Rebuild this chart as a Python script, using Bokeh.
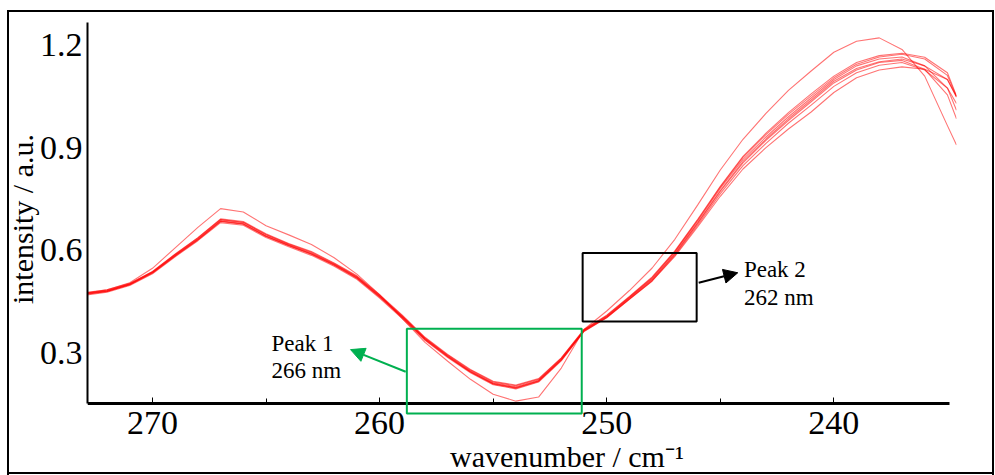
from bokeh.plotting import figure
from bokeh.models import (Range1d, FixedTicker, BoxAnnotation, Arrow, NormalHead, Label,
                          LinearAxis)
from bokeh.embed import file_html
from bokeh.resources import INLINE

# ---------------- data ----------------
wavenumber = [273, 272, 271, 270, 269, 268, 267, 266, 265, 264, 263, 262, 261, 260,
              259, 258, 257, 256, 255, 254, 253, 252, 251, 250, 249, 248, 247, 246,
              245, 244, 243, 242, 241, 240, 239, 238, 237, 236, 235, 234.6]

spectrum_1 = [0.472, 0.480, 0.500, 0.535, 0.585, 0.632, 0.686, 0.678, 0.642, 0.615, 0.590, 0.558, 0.520, 0.465,
              0.405, 0.340, 0.290, 0.245, 0.210, 0.198, 0.218, 0.280, 0.365, 0.405, 0.460, 0.515, 0.590, 0.680,
              0.775, 0.860, 0.925, 0.985, 1.040, 1.095, 1.132, 1.152, 1.160, 1.140, 1.100, 1.050]
spectrum_2 = [0.476, 0.484, 0.503, 0.538, 0.589, 0.637, 0.692, 0.684, 0.648, 0.620, 0.596, 0.563, 0.525, 0.470,
              0.410, 0.345, 0.295, 0.251, 0.216, 0.205, 0.224, 0.285, 0.368, 0.410, 0.465, 0.522, 0.598, 0.690,
              0.787, 0.875, 0.942, 1.003, 1.058, 1.110, 1.150, 1.170, 1.177, 1.165, 1.120, 1.052]
spectrum_3 = [0.468, 0.477, 0.497, 0.531, 0.581, 0.628, 0.681, 0.673, 0.637, 0.610, 0.585, 0.553, 0.515, 0.460,
              0.400, 0.336, 0.286, 0.241, 0.206, 0.194, 0.214, 0.276, 0.362, 0.402, 0.456, 0.510, 0.585, 0.673,
              0.766, 0.848, 0.912, 0.972, 1.025, 1.080, 1.120, 1.142, 1.150, 1.128, 1.075, 1.030]
spectrum_4 = [0.470, 0.479, 0.499, 0.533, 0.583, 0.630, 0.684, 0.676, 0.640, 0.613, 0.588, 0.556, 0.518, 0.463,
              0.403, 0.338, 0.288, 0.243, 0.208, 0.196, 0.216, 0.278, 0.363, 0.403, 0.457, 0.510, 0.582, 0.668,
              0.758, 0.838, 0.900, 0.955, 1.005, 1.062, 1.105, 1.128, 1.137, 1.130, 1.100, 1.048]
spectrum_5 = [0.474, 0.482, 0.501, 0.536, 0.587, 0.634, 0.689, 0.681, 0.645, 0.617, 0.592, 0.560, 0.522, 0.467,
              0.407, 0.342, 0.292, 0.247, 0.212, 0.200, 0.220, 0.282, 0.366, 0.407, 0.462, 0.518, 0.594, 0.685,
              0.781, 0.866, 0.931, 0.991, 1.046, 1.100, 1.140, 1.160, 1.166, 1.140, 1.075, 1.010]
spectrum_6 = [0.471, 0.479, 0.499, 0.534, 0.584, 0.631, 0.685, 0.677, 0.641, 0.614, 0.589, 0.557, 0.519, 0.464,
              0.404, 0.339, 0.289, 0.244, 0.209, 0.197, 0.217, 0.279, 0.364, 0.404, 0.458, 0.513, 0.588, 0.678,
              0.772, 0.856, 0.921, 0.980, 1.035, 1.090, 1.128, 1.150, 1.156, 1.130, 1.055, 0.985]
spectrum_7 = [0.473, 0.481, 0.502, 0.537, 0.588, 0.636, 0.690, 0.682, 0.646, 0.618, 0.594, 0.561, 0.523, 0.468,
              0.408, 0.343, 0.293, 0.249, 0.214, 0.203, 0.222, 0.284, 0.367, 0.408, 0.463, 0.520, 0.596, 0.688,
              0.785, 0.872, 0.938, 0.998, 1.052, 1.105, 1.145, 1.166, 1.174, 1.160, 1.112, 1.050]
spectrum_8 = [0.474, 0.484, 0.505, 0.547, 0.607, 0.667, 0.722, 0.712, 0.672, 0.645, 0.617, 0.578, 0.530, 0.470,
              0.400, 0.330, 0.275, 0.222, 0.178, 0.158, 0.170, 0.255, 0.368, 0.422, 0.482, 0.548, 0.632, 0.732,
              0.835, 0.925, 1.000, 1.068, 1.125, 1.180, 1.212, 1.222, 1.188, 1.110, 0.965, 0.908]

spectra = [spectrum_1, spectrum_2, spectrum_3, spectrum_4, spectrum_5, spectrum_6, spectrum_7, spectrum_8]

x_ticks = [270, 260, 250, 240]
x_minor_ticks = [265, 255, 245]
y_ticks = [0.3, 0.6, 0.9, 1.2]

peak_labels = [("Peak 1", "266 nm"), ("Peak 2", "262 nm")]

# ---------------- figure ----------------
FONT = "Liberation Serif"
GREEN = "#00B050"
X_AXIS_AT = 0.151   # intensity where the x axis is drawn

frame_css = ("linear-gradient(#000,#000) 7px 10px / 2px 465px no-repeat, "
             "linear-gradient(#000,#000) 7px 10px / 987px 2px no-repeat, "
             "linear-gradient(#000,#000) 992px 10px / 2px 465px no-repeat, "
             "linear-gradient(#000,#000) 7px 472px / 987px 2px no-repeat, #ffffff")

p = figure(width=995, height=475,
           x_range=Range1d(272.86, 234.6), y_range=Range1d(0.116, 1.267),
           output_backend="svg", toolbar_location=None,
           min_border_left=87, min_border_right=39, min_border_top=22, min_border_bottom=59)
p.styles = {"background": frame_css}
p.outline_line_color = None
p.xgrid.visible = False
p.ygrid.visible = False
p.background_fill_color = "white"
p.border_fill_alpha = 0

for s in spectra:
    p.line(wavenumber, s, line_color="#ff0000", line_width=1.1, line_alpha=0.55)

# x axis line + inward ticks, drawn at the data baseline
xa = p.xaxis[0]
xa.fixed_location = X_AXIS_AT
xa.bounds = (234.9, 272.86)
xa.ticker = FixedTicker(ticks=x_ticks, minor_ticks=x_minor_ticks)
xa.axis_line_width = 3
xa.axis_line_color = "black"
xa.major_tick_in = 6
xa.major_tick_out = 0
xa.minor_tick_in = 5
xa.minor_tick_out = 0
xa.major_tick_line_width = 1
xa.minor_tick_line_width = 1
xa.major_label_overrides = {t: "" for t in x_ticks}

# x tick labels + axis title, in the panel below the data area
xl = LinearAxis(ticker=FixedTicker(ticks=x_ticks))
xl.axis_line_color = None
xl.major_tick_line_color = None
xl.minor_tick_line_color = None
xl.major_tick_in = 0
xl.major_tick_out = 0
xl.minor_tick_in = 0
xl.minor_tick_out = 0
xl.major_label_standoff = -4
xl.major_label_text_font = FONT
xl.major_label_text_font_size = "34px"
xl.major_label_text_color = "black"
xl.axis_label = "\u00a0" * 12 + "wavenumber / cm\u207b\u00b9"
xl.axis_label_text_font = FONT
xl.axis_label_text_font_style = "normal"
xl.axis_label_text_font_size = "30px"
xl.axis_label_text_color = "black"
xl.axis_label_standoff = 3
p.add_layout(xl, "below")

# y axis
ya = p.yaxis[0]
ya.bounds = (X_AXIS_AT, 1.267)
ya.ticker = FixedTicker(ticks=y_ticks)
ya.axis_line_width = 2
ya.axis_line_color = "black"
ya.major_tick_in = 0
ya.major_tick_out = 0
ya.minor_tick_in = 0
ya.minor_tick_out = 0
ya.major_label_standoff = 5
ya.major_label_text_font = FONT
ya.major_label_text_font_size = "34px"
ya.major_label_text_color = "black"
ya.axis_label = "intensity / a.u."
ya.axis_label_text_font = FONT
ya.axis_label_text_font_style = "normal"
ya.axis_label_text_font_size = "30px"
ya.axis_label_text_color = "black"
ya.axis_label_standoff = -2

# annotation boxes
p.add_layout(BoxAnnotation(left=258.8, right=251.1, bottom=0.122, top=0.370,
                           fill_alpha=0, line_color=GREEN, line_alpha=1, line_width=2))
p.add_layout(BoxAnnotation(left=251.06, right=246.04, bottom=0.391, top=0.592,
                           fill_alpha=0, line_color="black", line_alpha=1, line_width=2))

# arrows
p.add_layout(Arrow(end=NormalHead(size=14, fill_color=GREEN, line_color=GREEN),
                   x_start=258.85, y_start=0.244, x_end=261.28, y_end=0.309,
                   line_color=GREEN, line_width=2))
p.add_layout(Arrow(end=NormalHead(size=14, fill_color="black", line_color="black"),
                   x_start=245.95, y_start=0.505, x_end=244.23, y_end=0.534,
                   line_color="black", line_width=2))

# labels
for (l1, l2), (lx, ly1, ly2) in zip(peak_labels, [(264.76, 0.326, 0.247), (243.96, 0.543, 0.461)]):
    for txt, ly in ((l1, ly1), (l2, ly2)):
        p.add_layout(Label(x=lx, y=ly, text=txt, text_font=FONT, text_font_size="23px",
                           text_color="black", text_baseline="alphabetic", text_align="left"))

open("out.html", "w").write(file_html(p, INLINE))
